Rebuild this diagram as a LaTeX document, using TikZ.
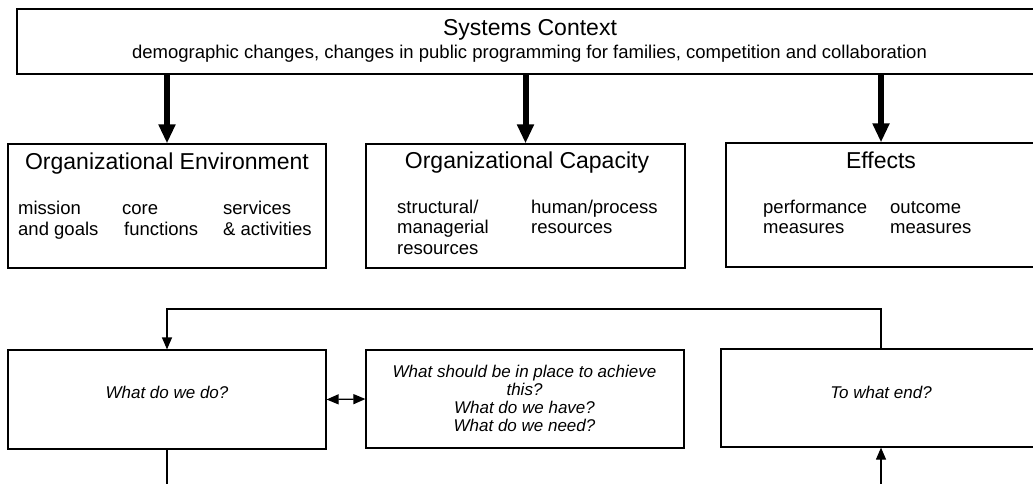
\documentclass[tikz,border=0pt]{standalone}
\usepackage{fontspec}
\setmainfont{Liberation Sans}
\usetikzlibrary{arrows.meta}
\begin{document}
\begin{tikzpicture}[x=1pt,y=-1pt,
  box/.style={draw, line width=1.2pt, rectangle, inner sep=0pt},
  ttl/.style={inner sep=0pt, anchor=mid, font=\fontsize{23}{27}\selectfont},
  body/.style={inner sep=0pt, anchor=mid west, font=\fontsize{18.5}{21}\selectfont},
  ask/.style={inner sep=0pt, anchor=mid, font=\fontsize{17}{18}\selectfont\itshape},
  bigarrow/.style={line width=6pt, -{Triangle[width=16pt,length=19pt]}},
  flow/.style={line width=1.2pt, -{Triangle[width=10pt,length=12pt]}},
  both/.style={line width=1.2pt, {Triangle[width=10pt,length=12pt]}-{Triangle[width=10pt,length=12pt]}},
  plain/.style={line width=1.2pt}]
\useasboundingbox (0,0) rectangle (1033,484);
\clip (0,0) rectangle (1033,484);

% boxes
\node[box, minimum width=1030pt, minimum height=65pt] (sys) at (532,41.5) {};
\node[box, minimum width=318pt, minimum height=124pt] (env) at (167,206) {};
\node[box, minimum width=319pt, minimum height=124pt] (cap) at (525.5,206) {};
\node[box, minimum width=310pt, minimum height=124pt] (eff) at (881,205) {};
\node[box, minimum width=318pt, minimum height=99pt] (do) at (167,399.5) {};
\node[box, minimum width=318pt, minimum height=98pt] (need) at (525,399) {};
\node[box, minimum width=320pt, minimum height=98pt] (end) at (881,398) {};

% systems context
\node[ttl] (sysT) at (530,33) {Systems Context};
\node[inner sep=0pt, anchor=mid, font=\fontsize{18.5}{21}\selectfont] (sysS) at (529.5,56)
  {demographic changes, changes in public programming for families, competition and collaboration};

% organizational environment
\node[ttl] (envT) at (167,167) {Organizational Environment};
\node[body] (e1a) at (18,212) {mission};
\node[body] (e1b) at (18,233) {and goals};
\node[body] (e2a) at (122,212) {core};
\node[body] (e2b) at (124,233) {functions};
\node[body] (e3a) at (223,212) {services};
\node[body] (e3b) at (223,233) {\& activities};

% organizational capacity
\node[ttl] (capT) at (527,166) {Organizational Capacity};
\node[body] (c1a) at (397,211) {structural/};
\node[body] (c1b) at (397,231) {managerial};
\node[body] (c1c) at (397,252) {resources};
\node[body] (c2a) at (531,211) {human/process};
\node[body] (c2b) at (531,231) {resources};

% effects
\node[ttl] (effT) at (881,166) {Effects};
\node[body] (f1a) at (763,211) {performance};
\node[body] (f1b) at (763,231) {measures};
\node[body] (f2a) at (890,211) {outcome};
\node[body] (f2b) at (890,231) {measures};

% questions
\node[ask] (doT) at (167,396) {What do we do?};
\node[ask] (n1) at (524.5,375) {What should be in place to achieve};
\node[ask] (n2) at (524.5,393) {this?};
\node[ask] (n3) at (524.5,411) {What do we have?};
\node[ask] (n4) at (524.5,429) {What do we need?};
\node[ask] (endT) at (881,396) {To what end?};

% context feeds the three upper boxes
\draw[bigarrow] (sys.south -| env.north) -- (env.north);
\draw[bigarrow] (sys.south -| cap.north) -- (cap.north);
\draw[bigarrow] (sys.south -| eff.north) -- (eff.north);

% feedback loop and links
\coordinate (loop) at (0,309);
\coordinate (edge) at (0,492);
\draw[flow] (end.north) -- (end.north |- loop) -| (do.north);
\draw[both] (do.east) -- (need.west);
\draw[plain] (do.south) -- (do.south |- edge);
\draw[flow] (end.south |- edge) -- (end.south);
\end{tikzpicture}
\end{document}
